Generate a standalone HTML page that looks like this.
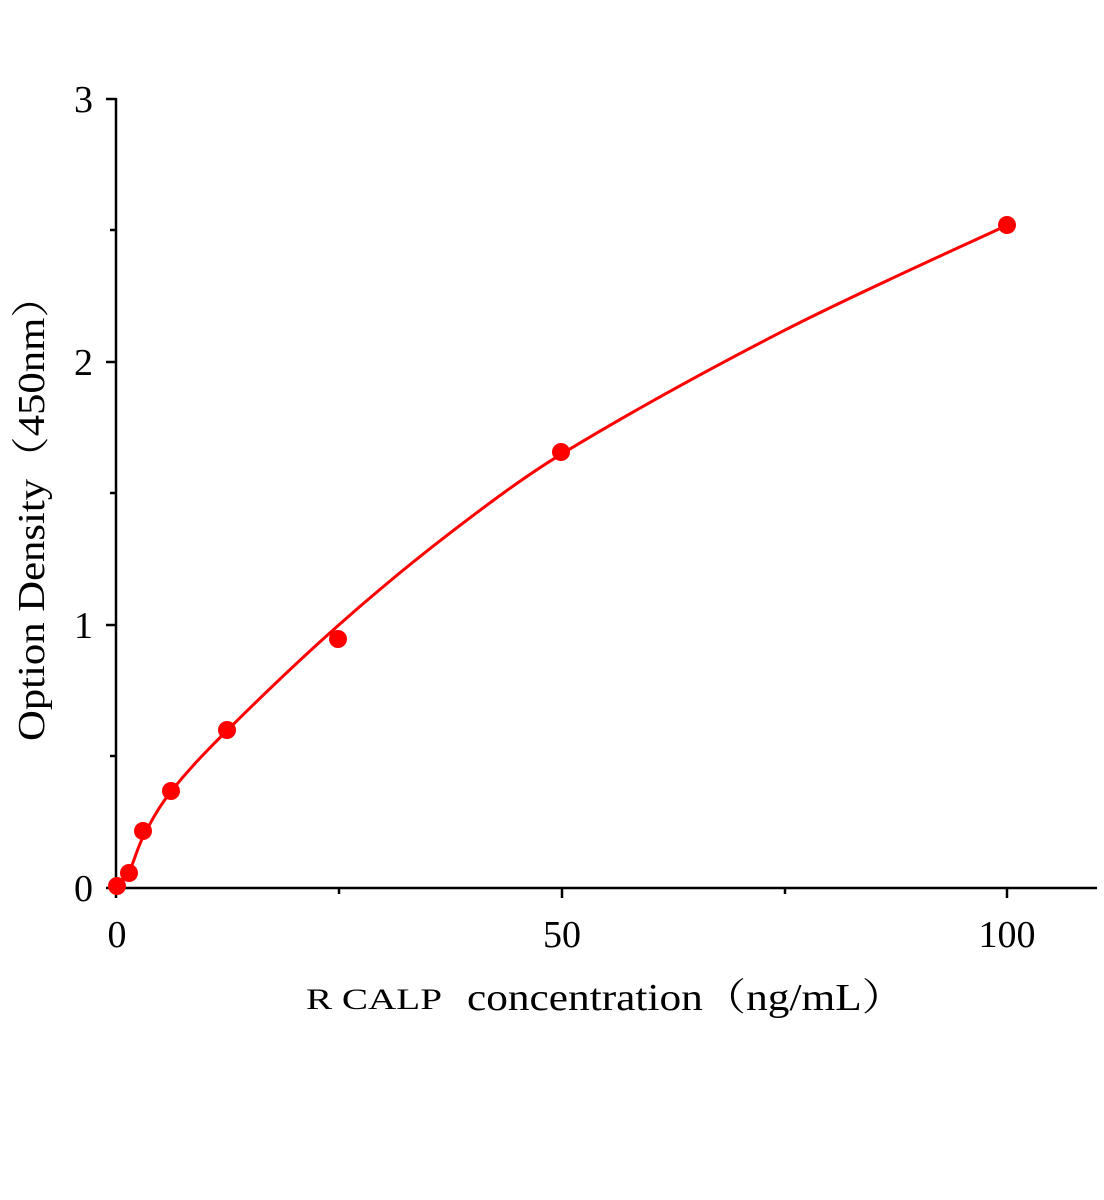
<!DOCTYPE html>
<html><head><meta charset="utf-8"><style>body{margin:0;background:#fff}svg{display:block}</style></head>
<body>
<svg width="1104" height="1200" viewBox="0 0 1104 1200" xmlns="http://www.w3.org/2000/svg" font-family="'Liberation Serif', 'Noto Serif CJK SC', serif">
<g stroke="#000" stroke-width="2.5" fill="none">
<line x1="116" y1="98" x2="116" y2="889"/>
<line x1="115" y1="888" x2="1097" y2="888"/>
<line x1="106" y1="888" x2="116" y2="888"/>
<line x1="106" y1="625" x2="116" y2="625"/>
<line x1="106" y1="362" x2="116" y2="362"/>
<line x1="106" y1="99" x2="116" y2="99"/>
<line x1="110" y1="756" x2="116" y2="756"/>
<line x1="110" y1="493" x2="116" y2="493"/>
<line x1="110" y1="230" x2="116" y2="230"/>
<line x1="116" y1="888" x2="116" y2="898"/>
<line x1="562" y1="888" x2="562" y2="898"/>
<line x1="1007" y1="888" x2="1007" y2="898"/>
<line x1="339" y1="888" x2="339" y2="894"/>
<line x1="785" y1="888" x2="785" y2="894"/>
</g>
<g font-size="38" fill="#000">
<text x="93" y="901" text-anchor="end">0</text>
<text x="93" y="638" text-anchor="end">1</text>
<text x="93" y="375" text-anchor="end">2</text>
<text x="93" y="112" text-anchor="end">3</text>
<text x="117" y="947" text-anchor="middle">0</text>
<text x="562" y="947" text-anchor="middle">50</text>
<text x="1007" y="947" text-anchor="middle">100</text>
<text x="306" y="1009" font-size="30" textLength="136" lengthAdjust="spacingAndGlyphs">R CALP</text>
<text x="467" y="1010" font-size="38" textLength="438" lengthAdjust="spacingAndGlyphs">concentration（ng/mL）</text>
<text transform="translate(44,741) rotate(-90)" font-size="38" textLength="466" lengthAdjust="spacingAndGlyphs">Option Density（450nm）</text>
</g>
<path d="M116,888 C118.32,884.93 125.28,878.36 129.92,869.59 C134.56,860.82 136.88,848.55 143.84,835.4 C150.8,822.25 157.77,808.22 171.69,790.69 C185.61,773.16 199.54,757.82 227.38,730.2 C255.22,702.58 301.62,657.88 338.75,625 C375.88,592.12 413,561.44 450.13,532.95 C487.26,504.46 524.5,476.5 561.5,454.05 C635.75,409.05 710,368.58 784.25,330.44 C858.5,292.3 969.87,242.77 1007,225.24" stroke="#f00" stroke-width="3" fill="none"/>
<g fill="#f00">
<circle cx="117" cy="886" r="9"/>
<circle cx="129" cy="873" r="9"/>
<circle cx="143" cy="831" r="9"/>
<circle cx="171" cy="791" r="9"/>
<circle cx="227" cy="730" r="9"/>
<circle cx="338" cy="639" r="9"/>
<circle cx="561" cy="452" r="9"/>
<circle cx="1007" cy="225" r="9"/>
</g>
</svg>
</body></html>
